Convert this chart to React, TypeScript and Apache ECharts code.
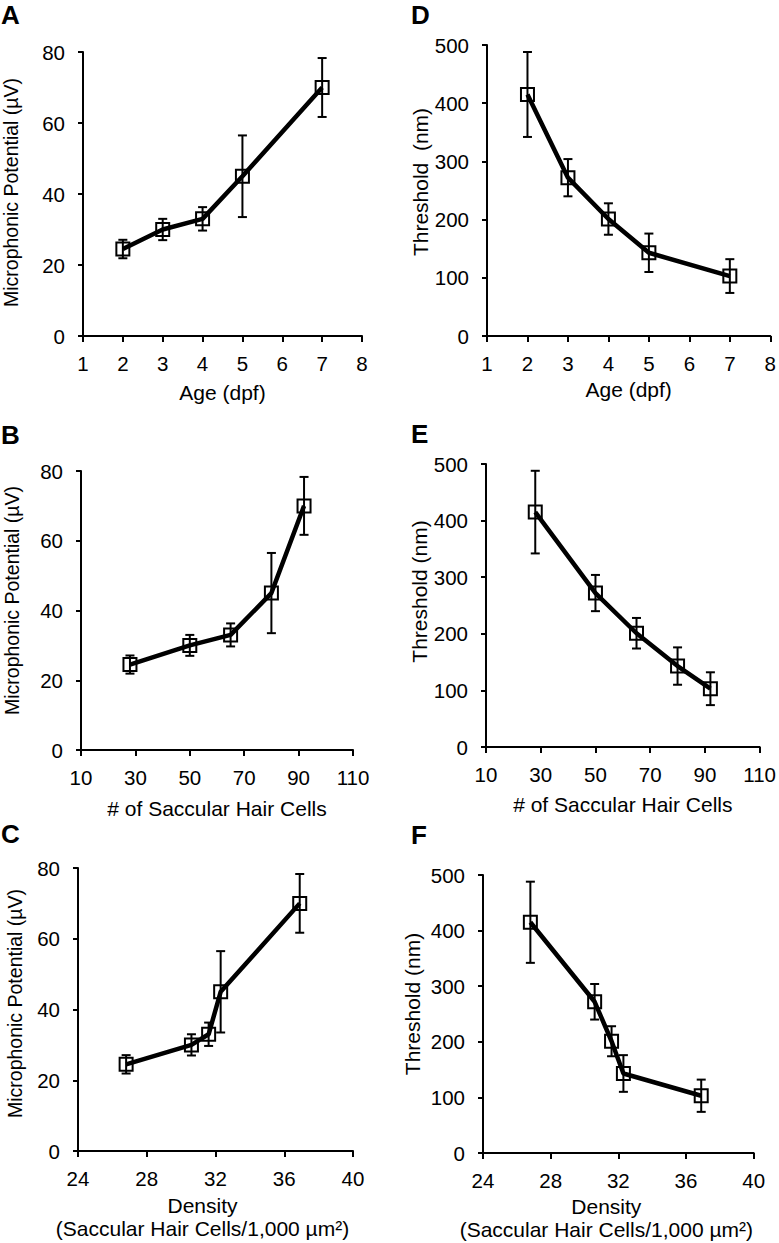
import { useEffect, useRef } from "react";
import * as echarts from "echarts";

// ---- data ----
const ageDpf = [2, 3, 4, 5, 7];
const hairCells = [28, 50, 65, 80, 92];
const density = [26.8, 30.6, 31.6, 32.3, 36.9];
const microphonic = [24.5, 30, 33, 45, 70];
const microphonicErr = [2.6, 3, 3.3, 11.5, 8.3];
const threshold = [415, 272, 201, 143, 103];
const thresholdErr = [73, 32, 27, 33, 29];

const ageTicks = { min: 1, max: 8, interval: 1 };
const cellTicks = { min: 10, max: 110, interval: 20 };
const densityTicks = { min: 24, max: 40, interval: 4 };
const mpTicks = { min: 0, max: 80, interval: 20 };
const thrTicks = { min: 0, max: 500, interval: 100 };

const labelAge = "Age (dpf)";
const labelCells = "# of Saccular Hair Cells";
const labelDensity = "Density\n(Saccular Hair Cells/1,000 µm²)";
const labelMP = "Microphonic Potential (µV)";
const labelThrD = "Threshold  (nm)";
const labelThr = "Threshold (nm)";

const FONT = "'Liberation Sans', Arial, Helvetica, sans-serif";

type Panel = {
  letter: string;
  lx: number;
  ly: number;
  grid: { left: number; top: number; width: number; height: number };
  xs: number[];
  ys: number[];
  errs: number[];
  xt: { min: number; max: number; interval: number };
  yt: { min: number; max: number; interval: number };
  xName: string;
  yName: string;
  xGap: number;
  xPadRight: number;
  yGap: number;
  yShift: number;
  yFont: number;
};

const panels: Panel[] = [
  {
    letter: "A", lx: 1, ly: 14.5,
    grid: { left: 82, top: 52, width: 280, height: 284 },
    xs: ageDpf, ys: microphonic, errs: microphonicErr,
    xt: ageTicks, yt: mpTicks, xName: labelAge, yName: labelMP,
    xGap: 45, xPadRight: 0, yGap: 62, yShift: 3, yFont: 19.5,
  },
  {
    letter: "D", lx: 411, ly: 14.5,
    grid: { left: 487, top: 45, width: 286, height: 291 },
    xs: ageDpf, ys: threshold, errs: thresholdErr,
    xt: ageTicks, yt: thrTicks, xName: labelAge, yName: labelThrD,
    xGap: 42, xPadRight: 0, yGap: 56, yShift: 17, yFont: 21,
  },
  {
    letter: "B", lx: 1, ly: 434.5,
    grid: { left: 81, top: 471, width: 272, height: 279 },
    xs: hairCells, ys: microphonic, errs: microphonicErr,
    xt: cellTicks, yt: mpTicks, xName: labelCells, yName: labelMP,
    xGap: 47, xPadRight: 0, yGap: 59, yShift: 20, yFont: 19.5,
  },
  {
    letter: "E", lx: 411, ly: 433.5,
    grid: { left: 486, top: 464, width: 275, height: 283 },
    xs: hairCells, ys: threshold, errs: thresholdErr,
    xt: cellTicks, yt: thrTicks, xName: labelCells, yName: labelThr,
    xGap: 46, xPadRight: 0, yGap: 55, yShift: 28, yFont: 21,
  },
  {
    letter: "C", lx: 1, ly: 834,
    grid: { left: 78, top: 868, width: 275, height: 283 },
    xs: density, ys: microphonic, errs: microphonicErr,
    xt: densityTicks, yt: mpTicks, xName: labelDensity, yName: labelMP,
    xGap: 43, xPadRight: 26, yGap: 53, yShift: 12, yFont: 19.5,
  },
  {
    letter: "F", lx: 411, ly: 835,
    grid: { left: 483, top: 875, width: 281, height: 278 },
    xs: density, ys: threshold, errs: thresholdErr,
    xt: densityTicks, yt: thrTicks, xName: labelDensity, yName: labelThr,
    xGap: 42, xPadRight: 24, yGap: 60, yShift: 20, yFont: 21,
  },
];

const axisLine = { show: true, lineStyle: { color: "#000", width: 2 } };

function buildOption() {
  const grid: any[] = [];
  const xAxis: any[] = [];
  const yAxis: any[] = [];
  const series: any[] = [];
  const graphic: any[] = [];

  panels.forEach((p, i) => {
    grid.push({ ...p.grid, containLabel: false });
    xAxis.push({
      type: "value",
      gridIndex: i,
      min: p.xt.min,
      max: p.xt.max,
      interval: p.xt.interval,
      axisLine,
      axisTick: { show: true, inside: false, length: 6, lineStyle: { color: "#000", width: 2 } },
      axisLabel: { color: "#000", fontSize: 20.5, fontFamily: FONT, margin: 17, showMinLabel: true, showMaxLabel: true },
      splitLine: { show: false },
      name: p.xName,
      nameLocation: "middle",
      nameGap: p.xGap,
      nameTextStyle: {
        color: "#000",
        fontSize: 21,
        fontFamily: FONT,
        lineHeight: 23,
        padding: [0, p.xPadRight, 0, 0],
      },
    });
    yAxis.push({
      type: "value",
      gridIndex: i,
      min: p.yt.min,
      max: p.yt.max,
      interval: p.yt.interval,
      axisLine,
      axisTick: { show: true, inside: false, length: 5, lineStyle: { color: "#000", width: 2 } },
      axisLabel: { color: "#000", fontSize: 20.5, fontFamily: FONT, margin: 18 },
      splitLine: { show: false },
      name: p.yName,
      nameLocation: "middle",
      nameGap: p.yGap,
      nameTextStyle: {
        color: "#000",
        fontSize: p.yFont,
        fontFamily: FONT,
        padding: [0, 0, 0, p.yShift],
      },
    });

    const errData = p.xs.map((x, k) => [x, p.ys[k], p.errs[k]]);
    series.push({
      type: "custom",
      xAxisIndex: i,
      yAxisIndex: i,
      encode: { x: 0, y: 1 },
      data: errData,
      z: 2,
      renderItem: (_params: any, api: any) => {
        const x = api.value(0);
        const y = api.value(1);
        const e = api.value(2);
        const hi = api.coord([x, y + e]);
        const lo = api.coord([x, y - e]);
        const w = 4.5;
        const style = { stroke: "#000", lineWidth: 2, fill: "none" };
        return {
          type: "group",
          children: [
            { type: "line", shape: { x1: hi[0], y1: hi[1], x2: lo[0], y2: lo[1] }, style },
            { type: "line", shape: { x1: hi[0] - w, y1: hi[1], x2: hi[0] + w, y2: hi[1] }, style },
            { type: "line", shape: { x1: lo[0] - w, y1: lo[1], x2: lo[0] + w, y2: lo[1] }, style },
          ],
        };
      },
    });
    series.push({
      type: "line",
      xAxisIndex: i,
      yAxisIndex: i,
      data: p.xs.map((x, k) => [x, p.ys[k]]),
      z: 3,
      symbol: "rect",
      symbolSize: 13,
      showAllSymbol: true,
      lineStyle: { color: "#000", width: 4.5 },
      itemStyle: { color: "rgba(255,255,255,0)", borderColor: "#000", borderWidth: 2 },
      emphasis: { disabled: true },
    });

    graphic.push({
      type: "text",
      x: p.lx,
      y: p.ly,
      style: {
        text: p.letter,
        fill: "#000",
        font: `bold 26px ${FONT}`,
        textAlign: "left",
        textVerticalAlign: "middle",
      },
    });
  });

  return {
    animation: false,
    backgroundColor: "#fff",
    textStyle: { fontFamily: FONT },
    grid,
    xAxis,
    yAxis,
    series,
    graphic,
  };
}

export default function App() {
  const ref = useRef<HTMLDivElement>(null);
  useEffect(() => {
    if (!ref.current) return;
    const chart = echarts.init(ref.current, null, { renderer: "svg" });
    chart.setOption(buildOption() as any);
    return () => chart.dispose();
  }, []);
  return (
    <div
      ref={ref}
      style={{ position: "fixed", left: 0, top: 0, width: 779, height: 1243, background: "#fff" }}
    />
  );
}
